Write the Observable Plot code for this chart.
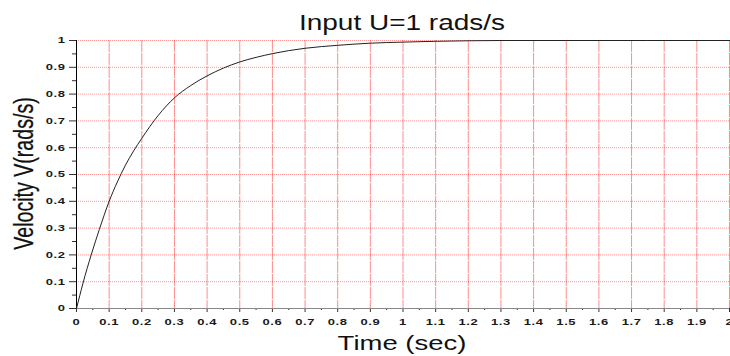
<!DOCTYPE html>
<html><head><meta charset="utf-8">
<script src="https://cdn.jsdelivr.net/npm/d3@7"></script>
<script src="https://cdn.jsdelivr.net/npm/@observablehq/plot@0.6"></script>
<style>
body{margin:0;background:#fff;}
#chart svg{font-family:"Liberation Sans",Arial,sans-serif;}
</style>
</head><body><div id="chart"></div>
<script>
const title = "Input U=1 rads/s";
const xLabel = "Time (sec)";
const yLabel = "Velocity V(rads/s)";

// values
const time =     [0, 0.01, 0.02, 0.045, 0.07, 0.1, 0.125, 0.15, 0.175, 0.2, 0.25, 0.3, 0.35, 0.4, 0.45, 0.5, 0.55, 0.6, 0.7, 0.8, 0.9, 1.0, 1.1, 1.2, 1.3, 1.5, 2.0];
const velocity = [0, 0.048, 0.095, 0.2, 0.295, 0.4, 0.472, 0.535, 0.588, 0.635, 0.72, 0.786, 0.832, 0.868, 0.897, 0.92, 0.937, 0.951, 0.971, 0.982, 0.99, 0.994, 0.997, 0.999, 1, 1, 1];

const xTicks = [0,0.1,0.2,0.3,0.4,0.5,0.6,0.7,0.8,0.9,1,1.1,1.2,1.3,1.4,1.5,1.6,1.7,1.8,1.9,2];
const yTicks = [0,0.1,0.2,0.3,0.4,0.5,0.6,0.7,0.8,0.9,1];
const xMinor = xTicks.slice(1).map(d => +(d - 0.05).toFixed(2));
const yMinor = yTicks.slice(1).map(d => +(d - 0.05).toFixed(2));

const data = time.map((t, i) => ({t, v: velocity[i]}));
const fmt = d => String(+d.toFixed(1));

const chart = Plot.plot({
  width: 730, height: 356,
  marginTop: 40, marginBottom: 48, marginLeft: 76, marginRight: 1,
  style: {fontFamily: '"Liberation Sans",Arial,sans-serif', fontSize: "13px", color: "#111", background: "#fff", overflow: "visible"},
  x: {domain: [0, 2], label: null},
  y: {domain: [0, 1], label: null},
  marks: [
    Plot.gridX(xTicks.slice(1), {stroke: "#ff4040", strokeOpacity: 0.6, strokeDasharray: "12,1"}),
    Plot.gridY(yTicks.slice(1), {stroke: "#ff3030", strokeOpacity: 0.5, strokeDasharray: "1,1"}),
    Plot.axisX(xMinor, {tickSize: 2, tickFormat: () => "", stroke: "#333"}),
    Plot.axisX(xTicks, {tickSize: 4, tickPadding: 6, tickFormat: fmt, fontWeight: "bold", fill: "#1a1a1a", stroke: "#333"}),
    Plot.axisY(yMinor, {tickSize: 4, tickFormat: () => "", stroke: "#333"}),
    Plot.axisY(yTicks, {tickSize: 7, tickPadding: 4, tickFormat: fmt, fontWeight: "bold", fill: "#1a1a1a", stroke: "#333"}),
    Plot.ruleY([0], {stroke: "#888"}),
    Plot.ruleX([0], {stroke: "#000"}),
    Plot.line(data, {x: "t", y: "v", stroke: "#222", strokeWidth: 1, curve: "monotone-x"})
  ]
});
document.getElementById("chart").appendChild(chart);

const svg = d3.select(chart.tagName === "svg" ? chart : chart.querySelector("svg"));
// squash tick labels vertically like the reference
svg.selectAll('g[aria-label$="tick label"] text').each(function() {
  const el = d3.select(this);
  el.attr("letter-spacing", "0.6px");
  const tr = el.attr("transform");
  if (tr) el.attr("transform", tr + " scale(1,0.72)");
});

svg.append("text")
  .attr("transform", "translate(402,30) scale(1,0.8)")
  .attr("text-anchor", "middle").attr("font-size", 28).attr("fill", "#111")
  .text(title);
svg.append("text")
  .attr("transform", "translate(402,350) scale(1,0.72)")
  .attr("text-anchor", "middle").attr("font-size", 27.5).attr("fill", "#111")
  .text(xLabel);
svg.append("text")
  .attr("transform", "translate(33,173.5) rotate(-90) scale(0.7,1)")
  .attr("text-anchor", "middle").attr("font-size", 28).attr("fill", "#111")
  .attr("stroke", "#111").attr("stroke-width", 0.3)
  .text(yLabel);
</script>
</body></html>
